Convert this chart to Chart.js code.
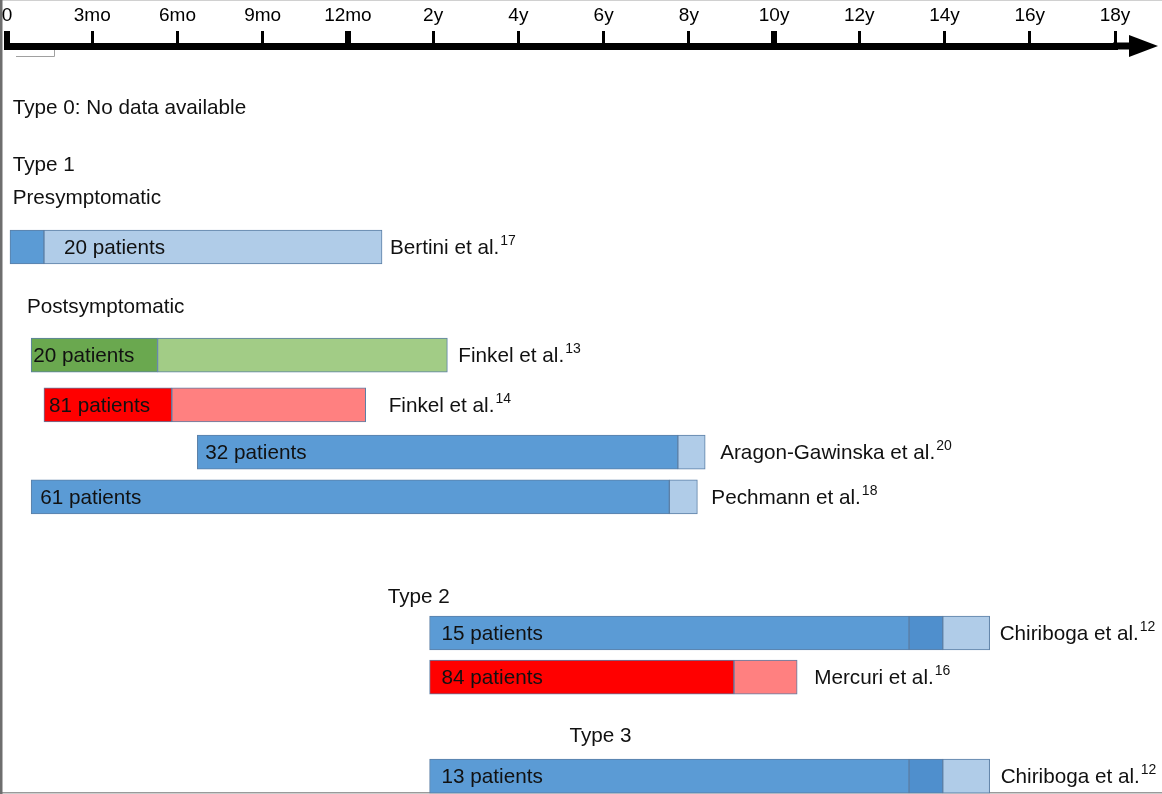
<!DOCTYPE html>
<html><head><meta charset="utf-8">
<script src="https://cdn.jsdelivr.net/npm/chart.js@4"></script>
<style>html,body{margin:0;padding:0;background:#fff;}#wrap{width:1162px;height:794px;position:relative}</style>
</head><body><div id="wrap"><canvas id="c" width="1162" height="794"></canvas></div>
<script>
// ---- data ----
const tickLabels = ['0','3mo','6mo','9mo','12mo','2y','4y','6y','8y','10y','12y','14y','16y','18y'];
const majorTicks = [0, 4, 9];
const studies = ['Bertini et al.','Finkel et al.','Finkel et al.','Aragon-Gawinska et al.','Pechmann et al.','Chiriboga et al.','Mercuri et al.','Chiriboga et al.'];
const refs = ['17','13','14','20','18','12','16','12'];
const patients = [20, 20, 81, 32, 61, 15, 84, 13];
// months of age
const startMonths     = [0,    0.85, 1.3,  6.7,   0.85, 23.5,  23.5,  23.5];
const treatEndMonths  = [1.3,  5.3,  5.8,  92.9,  90.5, 158,   108.7, 158];
const extraEndMonths  = [null, null, null, null,  null, 167.5, null,  167.5];
const followEndMonths = [16.8, 28,   14.5, 100.6, 98.4, 180.7, 126.5, 180.7];
const palette = ['blue','green','red','blue','blue','blue','red','blue'];
const rowSlot = [4.37, 6.72, 7.80, 8.83, 9.80, 12.76, 13.72, 15.87];
const sections = ['Type 0: No data available','Type 1','Presymptomatic','Postsymptomatic','Type 2','Type 3'];
const sectionMonths = [0.2, 0.2, 0.2, 0.7, 17.6, 62.4];
const sectionSlot = [1.35, 2.59, 3.30, 5.67, 11.98, 15.0];

// ---- layout / style ----
const labelPadPx = [20, 2, 5, 8, 9, 12, 12, 12];
const refPadPx = [8, 11, 23, 15, 14, 10, 17, 11];
const colors = {
  blue:  {dark:'#5b9bd5', mid:'#4f8fcd', light:'#b0cce8'},
  green: {dark:'#6aa84f', mid:'#6aa84f', light:'#a2cc86'},
  red:   {dark:'#ff0000', mid:'#ff0000', light:'#ff8080'}
};
const FONT = '"Liberation Sans", Arial, Helvetica, sans-serif';
const TEXT_SIZE = 20.7;
Chart.defaults.font.family = FONT;

function toAxis(m){
  if (m <= 12) return m / 3;
  if (m <= 24) return 4 + (m - 12) / 12;
  return 5 + (m - 24) / 24;
}

const idx = studies.map((_, i) => i);
const treatData = idx.map(i => ({x:[toAxis(startMonths[i]), toAxis(treatEndMonths[i])], y: rowSlot[i]}));
const extraIdx = idx.filter(i => extraEndMonths[i] !== null);
const extraData = extraIdx.map(i => ({x:[toAxis(treatEndMonths[i]), toAxis(extraEndMonths[i])], y: rowSlot[i]}));
const followData = idx.map(i => {
  const s = extraEndMonths[i] !== null ? extraEndMonths[i] : treatEndMonths[i];
  return {x:[toAxis(s), toAxis(followEndMonths[i])], y: rowSlot[i]};
});

const barCommon = {barThickness: 34, borderWidth: 1, borderColor: '#5b7fa6', borderSkipped: false, grouped: false, clip: false};

const decor = {
  id: 'decor',
  beforeDraw(chart){
    const ctx = chart.ctx;
    ctx.save();
    ctx.fillStyle = '#fff';
    ctx.fillRect(0, 0, chart.width, chart.height);
    ctx.fillStyle = '#d0d0d0';
    ctx.fillRect(0, 0, chart.width, 1);
    ctx.fillStyle = '#9a9a9a';
    ctx.fillRect(0, chart.height - 2, chart.width, 1.5);
    ctx.fillStyle = '#6e6e6e';
    ctx.fillRect(0, 0, 2.5, chart.height);
    ctx.strokeStyle = '#a0a0a0';
    ctx.lineWidth = 1;
    ctx.beginPath();
    ctx.moveTo(16, 56.5); ctx.lineTo(54.5, 56.5); ctx.lineTo(54.5, 47);
    ctx.stroke();
    ctx.restore();
  },
  afterDraw(chart){
    const ctx = chart.ctx;
    const xs = chart.scales.x, ys = chart.scales.y;
    const area = chart.chartArea;
    ctx.save();
    ctx.fillStyle = '#000';
    ctx.fillRect(area.right - 2, area.top - 3.5, 1135 - area.right + 2, 7);
    ctx.beginPath();
    ctx.moveTo(1129, area.top - 11);
    ctx.lineTo(1158, area.top);
    ctx.lineTo(1129, area.top + 11);
    ctx.closePath();
    ctx.fill();

    ctx.textBaseline = 'middle';
    ctx.textAlign = 'left';
    ctx.font = TEXT_SIZE + 'px ' + FONT;
    ctx.fillStyle = '#111';
    sections.forEach((t, i) => {
      ctx.fillText(t, xs.getPixelForValue(toAxis(sectionMonths[i])), ys.getPixelForValue(sectionSlot[i]));
    });
    idx.forEach(i => {
      const y = ys.getPixelForValue(rowSlot[i]);
      const x0 = xs.getPixelForValue(toAxis(startMonths[i]));
      const x1 = xs.getPixelForValue(toAxis(treatEndMonths[i]));
      const anchor = (x1 - x0) < 80 ? x1 : x0;
      ctx.font = TEXT_SIZE + 'px ' + FONT;
      ctx.fillStyle = '#111';
      ctx.fillText(patients[i] + ' patients', anchor + labelPadPx[i], y + 1);
      const xe = xs.getPixelForValue(toAxis(followEndMonths[i])) + refPadPx[i];
      ctx.fillText(studies[i], xe, y + 1);
      const w = ctx.measureText(studies[i]).width;
      ctx.font = '14px ' + FONT;
      ctx.fillText(refs[i], xe + w + 1, y - 6);
    });
    ctx.restore();
  }
};

new Chart(document.getElementById('c'), {
  type: 'bar',
  data: {
    datasets: [
      Object.assign({label:'treatment', data: treatData, backgroundColor: idx.map(i => colors[palette[i]].dark)}, barCommon),
      Object.assign({label:'extension', data: extraData, backgroundColor: extraIdx.map(i => colors[palette[i]].mid)}, barCommon),
      Object.assign({label:'follow-up', data: followData, backgroundColor: idx.map(i => colors[palette[i]].light)}, barCommon)
    ]
  },
  options: {
    indexAxis: 'y',
    responsive: false,
    animation: false,
    events: [],
    layout: {padding: {left: 7, right: 47, top: 0, bottom: 0}},
    plugins: {legend: {display: false}, tooltip: {enabled: false}},
    scales: {
      x: {
        type: 'linear', position: 'top', min: 0, max: 13, offset: false,
        afterFit(s){ s.height = 46; s.paddingLeft = 0; s.paddingRight = 0; },
        ticks: {
          stepSize: 1, autoSkip: false, maxRotation: 0, padding: 4,
          color: '#000', font: {size: 19, family: FONT, lineHeight: 1.2},
          callback: v => (tickLabels[v] !== undefined ? tickLabels[v] : '')
        },
        grid: {
          offset: false, drawOnChartArea: false, drawTicks: true, tickLength: 15, color: '#000',
          lineWidth: ctx => (ctx.tick && majorTicks.includes(ctx.tick.value)) ? 6 : 3
        },
        border: {display: true, color: '#000', width: 7}
      },
      y: {type: 'linear', reverse: true, min: 0, max: 16.26, offset: false, grid: {offset: false}, display: false}
    }
  },
  plugins: [decor]
});
</script></body></html>
